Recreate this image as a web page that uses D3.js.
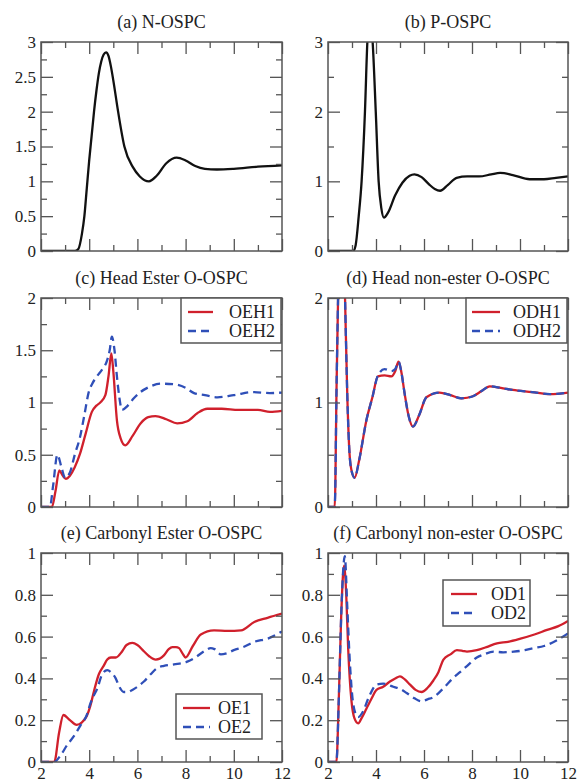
<!DOCTYPE html>
<html>
<head>
<meta charset="utf-8">
<script src="https://cdn.jsdelivr.net/npm/d3@7"></script>
<style>
  body { margin:0; background:#fff; }
  svg { display:block; }
  svg text { font-family:"Liberation Serif","DejaVu Serif",serif; }
</style>
</head>
<body>
<svg id="chart" width="577" height="783"></svg>
<script>
// ---- data ----
var xTicks = [2, 4, 6, 8, 10, 12];
var xMinor = [3, 5, 7, 9, 11];

// (a) N-OSPC
var aX = [2, 3.4, 3.55, 3.7, 3.8, 3.9, 4.0, 4.1, 4.2, 4.3, 4.4, 4.5, 4.6, 4.7, 4.8, 4.9, 5.0, 5.2, 5.46, 5.82, 6.1, 6.48, 6.8, 7.2, 7.63, 8.0, 8.4, 8.8, 9.3, 10, 11, 12];
var aY = [0, 0, 0.03, 0.25, 0.5, 0.9, 1.3, 1.65, 2.0, 2.3, 2.55, 2.72, 2.82, 2.85, 2.8, 2.65, 2.45, 2.0, 1.5, 1.2, 1.07, 1.0, 1.08, 1.26, 1.34, 1.3, 1.22, 1.18, 1.17, 1.18, 1.21, 1.23];
var aTicks = [0, 0.5, 1, 1.5, 2, 2.5, 3];
var aMinor = [0.25, 0.75, 1.25, 1.75, 2.25, 2.75];

// (b) P-OSPC
var bX = [2, 3.05, 3.15, 3.28, 3.4, 3.54, 3.64, 3.75, 3.86, 3.99, 4.11, 4.22, 4.33, 4.5, 4.8, 5.1, 5.4, 5.6, 5.9, 6.2, 6.45, 6.67, 7.0, 7.36, 7.8, 8.3, 8.8, 9.17, 9.7, 10.4, 11.0, 11.5, 12];
var bY = [0, 0, 0.08, 0.5, 1.0, 2.0, 3.0, 3.4, 3.0, 2.0, 1.0, 0.62, 0.48, 0.55, 0.8, 0.98, 1.08, 1.1, 1.06, 0.96, 0.89, 0.865, 0.95, 1.05, 1.07, 1.07, 1.1, 1.12, 1.09, 1.03, 1.03, 1.05, 1.07];
var bTicks = [0, 1, 2, 3];
var bMinor = [0.5, 1.5, 2.5];

// (c) Head Ester O-OSPC
var cLabels = ["OEH1", "OEH2"];
var cX1 = [2, 2.45, 2.6, 2.76, 2.9, 3.03, 3.2, 3.4, 3.62, 3.85, 4.11, 4.3, 4.46, 4.67, 4.8, 4.92, 5.0, 5.15, 5.3, 5.5, 5.8, 6.13, 6.45, 6.75, 7.2, 7.65, 8.07, 8.5, 8.9, 9.5, 10.2, 11, 11.5, 12];
var cY1 = [0, 0, 0.15, 0.35, 0.3, 0.27, 0.3, 0.38, 0.51, 0.7, 0.91, 0.97, 1.0, 1.07, 1.25, 1.47, 1.3, 0.83, 0.66, 0.59, 0.68, 0.8, 0.86, 0.87, 0.84, 0.8, 0.82, 0.9, 0.94, 0.94, 0.93, 0.93, 0.91, 0.92];
var cX2 = [2, 2.37, 2.5, 2.68, 2.85, 3.0, 3.2, 3.4, 3.62, 3.8, 3.97, 4.15, 4.32, 4.55, 4.74, 4.85, 4.94, 5.05, 5.15, 5.25, 5.36, 5.6, 5.85, 6.13, 6.5, 6.96, 7.5, 8.0, 8.35, 8.8, 9.32, 10.0, 10.8, 11.5, 12];
var cY2 = [0, 0, 0.2, 0.5, 0.38, 0.28, 0.33, 0.5, 0.67, 0.88, 1.09, 1.19, 1.25, 1.32, 1.4, 1.5, 1.63, 1.5, 1.25, 1.05, 0.93, 0.97, 1.04, 1.1, 1.15, 1.18, 1.175, 1.14, 1.09, 1.07, 1.05, 1.07, 1.1, 1.09, 1.095];
var cTicks = [0, 0.5, 1, 1.5, 2];
var cMinor = [0.25, 0.75, 1.25, 1.75];

// (d) Head non-ester O-OSPC
var dLabels = ["ODH1", "ODH2"];
var dX = [2, 2.28, 2.36, 2.42, 2.5, 2.56, 2.63, 2.71, 2.8, 2.9, 3.0, 3.11, 3.3, 3.6, 3.85, 4.08, 4.36, 4.64, 4.8, 4.94, 5.05, 5.19, 5.35, 5.54, 5.8, 6.1, 6.65, 7.1, 7.56, 8.04, 8.4, 8.74, 9.2, 9.7, 10.5, 11.24, 12];
var dY1 = [0, 0, 1.2, 2.0, 2.8, 3.0, 2.8, 2.0, 1.1, 0.5, 0.33, 0.28, 0.45, 0.83, 1.05, 1.25, 1.26, 1.25, 1.3, 1.39, 1.3, 1.09, 0.88, 0.77, 0.88, 1.05, 1.095, 1.07, 1.04, 1.06, 1.11, 1.155, 1.14, 1.12, 1.1, 1.08, 1.095];
var dY2 = [0, 0, 1.2, 2.0, 2.8, 3.0, 2.8, 2.0, 1.1, 0.5, 0.33, 0.28, 0.45, 0.83, 1.05, 1.26, 1.32, 1.3, 1.32, 1.39, 1.3, 1.09, 0.88, 0.77, 0.88, 1.05, 1.095, 1.07, 1.04, 1.06, 1.11, 1.155, 1.14, 1.12, 1.1, 1.08, 1.095];
var dTicks = [0, 1, 2];
var dMinor = [0.5, 1.5];

// (e) Carbonyl Ester O-OSPC
var eLabels = ["OE1", "OE2"];
var eX1 = [2, 2.55, 2.75, 2.93, 3.2, 3.48, 3.7, 3.9, 4.05, 4.2, 4.4, 4.6, 4.75, 4.9, 5.1, 5.37, 5.55, 5.79, 6.0, 6.27, 6.5, 6.76, 7.1, 7.3, 7.45, 7.6, 7.73, 7.87, 8.0, 8.3, 8.63, 9.18, 9.74, 10.3, 10.85, 11.4, 12];
var eY1 = [0, 0, 0.14, 0.225, 0.2, 0.178, 0.19, 0.22, 0.27, 0.34, 0.42, 0.46, 0.49, 0.5, 0.5, 0.53, 0.56, 0.57, 0.56, 0.53, 0.505, 0.49, 0.51, 0.54, 0.55, 0.55, 0.545, 0.52, 0.5, 0.555, 0.61, 0.63, 0.627, 0.63, 0.67, 0.69, 0.71];
var eX2 = [2, 2.55, 2.8, 3.08, 3.4, 3.64, 3.9, 4.05, 4.2, 4.33, 4.54, 4.75, 4.9, 5.1, 5.25, 5.44, 5.6, 5.79, 6.0, 6.27, 6.55, 6.83, 7.1, 7.52, 8.07, 8.4, 8.77, 9.04, 9.2, 9.46, 9.7, 10.0, 10.4, 10.85, 11.4, 12];
var eY2 = [0, 0, 0.03, 0.08, 0.13, 0.175, 0.225, 0.28, 0.32, 0.35, 0.42, 0.44, 0.43, 0.4, 0.36, 0.335, 0.335, 0.345, 0.36, 0.385, 0.42, 0.45, 0.46, 0.467, 0.48, 0.5, 0.53, 0.545, 0.54, 0.515, 0.52, 0.535, 0.55, 0.575, 0.59, 0.625];
var eTicks = [0, 0.2, 0.4, 0.6, 0.8, 1];
var eMinor = [0.1, 0.3, 0.5, 0.7, 0.9];

// (f) Carbonyl non-ester O-OSPC
var fLabels = ["OD1", "OD2"];
var fX1 = [2, 2.35, 2.45, 2.55, 2.67, 2.76, 2.84, 2.98, 3.1, 3.26, 3.4, 3.6, 3.8, 4.02, 4.3, 4.58, 4.8, 5.0, 5.2, 5.42, 5.65, 5.9, 6.15, 6.39, 6.6, 6.81, 7.1, 7.37, 7.6, 7.79, 8.2, 8.6, 9.04, 9.5, 10.02, 10.6, 11.13, 11.6, 12];
var fY1 = [0, 0, 0.3, 0.7, 0.94, 0.8, 0.545, 0.29, 0.21, 0.185, 0.21, 0.255, 0.3, 0.345, 0.36, 0.385, 0.4, 0.41, 0.395, 0.37, 0.345, 0.335, 0.355, 0.39, 0.43, 0.49, 0.515, 0.535, 0.532, 0.528, 0.535, 0.55, 0.568, 0.575, 0.59, 0.61, 0.632, 0.65, 0.675];
var fX2 = [2, 2.35, 2.45, 2.55, 2.7, 2.8, 2.9, 3.0, 3.15, 3.26, 3.45, 3.7, 4.02, 4.3, 4.5, 4.72, 5.0, 5.28, 5.6, 5.9, 6.15, 6.39, 6.7, 6.95, 7.2, 7.5, 7.8, 8.2, 8.5, 8.9, 9.3, 9.74, 10.2, 10.58, 11.0, 11.5, 12];
var fY2 = [0, 0, 0.3, 0.7, 0.985, 0.75, 0.5, 0.33, 0.23, 0.215, 0.24, 0.31, 0.37, 0.375, 0.37, 0.36, 0.35, 0.33, 0.305, 0.29, 0.3, 0.31, 0.34, 0.37, 0.4, 0.43, 0.46, 0.5, 0.515, 0.528, 0.525, 0.528, 0.535, 0.545, 0.555, 0.58, 0.615];
var fTicks = [0, 0.2, 0.4, 0.6, 0.8, 1];
var fMinor = [0.1, 0.3, 0.5, 0.7, 0.9];

// ---- styling ----
var RED = "#d0202c", BLUE = "#2f4fb8", BLACK = "#111", FRAME = "#555";
var FONT = "'Liberation Serif', 'DejaVu Serif', serif";
var cols = [[41, 282], [328, 568]];
var rows = [[42, 251], [298, 507], [553, 762]];

var svg = d3.select("#chart");

function zip(xs, ys){
  return xs.map(function(x, i){ return [x, ys[i]]; });
}

function drawPanel(p){
  var x0 = cols[p.col][0], x1 = cols[p.col][1];
  var y0 = rows[p.row][0], y1 = rows[p.row][1];
  var x = d3.scaleLinear().domain([2, 12]).range([x0, x1]);
  var y = d3.scaleLinear().domain(p.ydom).range([y1, y0]);
  var g = svg.append("g");

  var clipId = "clip" + p.id;
  g.append("clipPath").attr("id", clipId)
    .append("rect").attr("x", x0).attr("y", y0).attr("width", x1 - x0).attr("height", y1 - y0);

  var line = d3.line().x(function(d){ return x(d[0]); }).y(function(d){ return y(d[1]); })
               .curve(d3.curveMonotoneX);
  var lines = g.append("g").attr("clip-path", "url(#" + clipId + ")");
  p.series.forEach(function(s){
    lines.append("path")
      .attr("d", line(zip(s.x, s.y)))
      .attr("fill", "none")
      .attr("stroke", s.color)
      .attr("stroke-width", 2.3)
      .attr("stroke-linejoin", "round")
      .attr("stroke-dasharray", s.dash ? "8,5" : null);
  });

  // ticks on all four sides, pointing inward
  function ax(axis, tx, ty, values, size, labels){
    var a = axis.tickValues(values).tickSize(-size).tickPadding(5);
    if(!labels) a.tickFormat("");
    else a.tickFormat(d3.format("~g"));
    var sel = g.append("g").attr("transform", "translate(" + tx + "," + ty + ")").call(a);
    sel.attr("font-family", FONT).attr("font-size", 17);
    sel.select(".domain").remove();
    sel.selectAll("line").attr("stroke", FRAME).attr("stroke-width", 1.3);
    sel.selectAll("text").attr("fill", "#222");
    return sel;
  }
  ax(d3.axisLeft(y), x0, 0, p.yticks, 12, true);
  ax(d3.axisLeft(y), x0, 0, p.yminor, 6, false);
  ax(d3.axisRight(y), x1, 0, p.yticks, 12, false);
  ax(d3.axisRight(y), x1, 0, p.yminor, 6, false);
  ax(d3.axisTop(x), 0, y0, xTicks, 12, false);
  ax(d3.axisTop(x), 0, y0, xMinor, 6, false);
  var bx = ax(d3.axisBottom(x), 0, y1, xTicks, 12, p.row == 2);
  bx.selectAll("text").attr("dy", "0.7em");
  ax(d3.axisBottom(x), 0, y1, xMinor, 6, false);

  g.append("rect")
    .attr("x", x0).attr("y", y0).attr("width", x1 - x0).attr("height", y1 - y0)
    .attr("fill", "none").attr("stroke", FRAME).attr("stroke-width", 1.5);

  g.append("text")
    .attr("x", (x0 + x1) / 2).attr("y", y0 - 14)
    .attr("text-anchor", "middle")
    .style("font-size", "18px").attr("fill", "#222")
    .text(p.title);

  if(p.legend){
    var L = p.legend;
    g.append("rect")
      .attr("x", L.x).attr("y", L.y).attr("width", L.w).attr("height", L.h)
      .attr("fill", "#fff").attr("stroke", FRAME).attr("stroke-width", 1.5);
    p.series.forEach(function(s, i){
      var ly = L.y + 14 + i * 19;
      g.append("line")
        .attr("x1", L.x + L.l0).attr("x2", L.x + L.l1).attr("y1", ly).attr("y2", ly)
        .attr("stroke", s.color).attr("stroke-width", 2.3)
        .attr("stroke-dasharray", s.dash ? "8,5" : null);
      g.append("text")
        .attr("x", L.x + L.tx).attr("y", ly + 6)
        .style("font-size", "18px").attr("fill", "#222")
        .text(s.label);
    });
  }
}

drawPanel({id:"a", col:0, row:0, title:"(a) N-OSPC", ydom:[0, 3], yticks:aTicks, yminor:aMinor,
  series:[{x:aX, y:aY, color:BLACK}]});
drawPanel({id:"b", col:1, row:0, title:"(b) P-OSPC", ydom:[0, 3], yticks:bTicks, yminor:bMinor,
  series:[{x:bX, y:bY, color:BLACK}]});
drawPanel({id:"c", col:0, row:1, title:"(c) Head Ester O-OSPC", ydom:[0, 2], yticks:cTicks, yminor:cMinor,
  series:[{x:cX1, y:cY1, color:RED, label:cLabels[0]}, {x:cX2, y:cY2, color:BLUE, dash:true, label:cLabels[1]}],
  legend:{x:181, y:298, w:100, h:45, l0:7, l1:32, tx:48}});
drawPanel({id:"d", col:1, row:1, title:"(d) Head non-ester O-OSPC", ydom:[0, 2], yticks:dTicks, yminor:dMinor,
  series:[{x:dX, y:dY1, color:RED, label:dLabels[0]}, {x:dX, y:dY2, color:BLUE, dash:true, label:dLabels[1]}],
  legend:{x:466, y:298, w:101, h:45, l0:6, l1:34, tx:47}});
drawPanel({id:"e", col:0, row:2, title:"(e) Carbonyl Ester O-OSPC", ydom:[0, 1], yticks:eTicks, yminor:eMinor,
  series:[{x:eX1, y:eY1, color:RED, label:eLabels[0]}, {x:eX2, y:eY2, color:BLUE, dash:true, label:eLabels[1]}],
  legend:{x:176, y:694, w:86, h:45, l0:7, l1:34, tx:42}});
drawPanel({id:"f", col:1, row:2, title:"(f) Carbonyl non-ester O-OSPC", ydom:[0, 1], yticks:fTicks, yminor:fMinor,
  series:[{x:fX1, y:fY1, color:RED, label:fLabels[0]}, {x:fX2, y:fY2, color:BLUE, dash:true, label:fLabels[1]}],
  legend:{x:443, y:580, w:87, h:46, l0:8, l1:34, tx:48}});
</script>
</body>
</html>
